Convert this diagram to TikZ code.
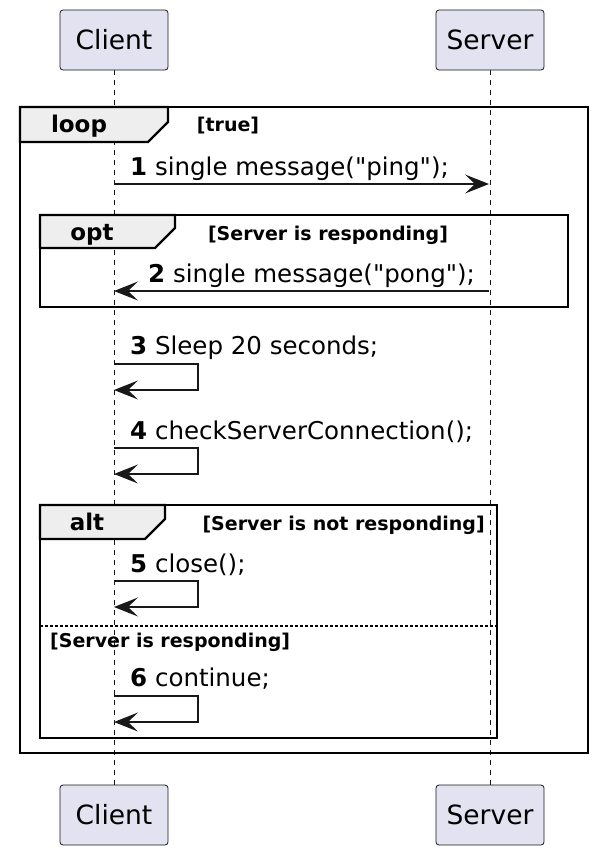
\documentclass[tikz,border=0pt]{standalone}
\usepackage{fontspec}
\newfontfamily\umlfont{DejaVu Sans}
\usetikzlibrary{arrows.meta}
\definecolor{partfill}{HTML}{E2E2F0}
\definecolor{tabgray}{HTML}{EEEEEE}
\definecolor{ink}{HTML}{181818}
\tikzset{
  part/.style={draw=ink, fill=partfill, rounded corners=3pt, line width=0.8pt,
    minimum width=108pt, minimum height=60pt, inner sep=0pt, font=\umlfont\fontsize{26.5}{30}\selectfont},
  lifeline/.style={draw=ink, line width=0.8pt, dash pattern=on 5pt off 5pt},
  frame/.style={draw=black, line width=2.4pt},
  fragtab/.style={draw=black, fill=tabgray, line width=2.4pt, line join=miter},
  msg/.style={draw=ink, line width=1.2pt, -{Stealth[length=24pt, width=19pt, inset=10pt]}},
  msgtext/.style={anchor=base west, inner sep=0pt, font=\umlfont\fontsize{24.5}{28}\selectfont},
  kwtext/.style={anchor=base, inner sep=0pt, font=\umlfont\fontsize{23}{27}\selectfont\bfseries},
  guard/.style={inner sep=0pt, font=\umlfont\fontsize{19}{23}\selectfont\bfseries}
}
% tab of a combined fragment: left x, top y, right x, bottom y
\def\fragtab(#1,#2)(#3,#4){\draw[fragtab] (#1,#2) -- (#3,#2) -- (#3,{#4-20}) -- ({#3-20},#4) -- (#1,#4) -- cycle;}

\begin{document}
\begin{tikzpicture}[x=1pt, y=-1pt]
\useasboundingbox (0,0) rectangle (597,855);

% participants
\node[part] (client) at (114,40) {Client};
\node[part] (server) at (490,40) {Server};
\node[part] (clientb) at (114,815) {Client};
\node[part] (serverb) at (490,815) {Server};
\draw[lifeline] (client) -- (clientb);
\draw[lifeline] (server) -- (serverb);

% loop
\draw[frame] (20,107) rectangle (588,753);
\fragtab(20,107)(168,142)
\node[kwtext] (loopkw) at (79,132) {loop};
\node[guard, anchor=base] (loopguard) at (228,131) {[true]};

% 1
\coordinate (m1c) at (114,184);
\coordinate (m1s) at (489,184);
\draw[msg] (m1c) -- (m1s);
\node[msgtext] (m1) at (130,175) {\textbf{1} single message("ping");};

% opt
\draw[frame] (40,215) rectangle (568,307);
\fragtab(40,215)(175,248)
\node[kwtext] (optkw) at (92,240) {opt};
\node[guard, anchor=base] (optguard) at (328,240) {[Server is responding]};

% 2
\coordinate (m2s) at (489,291);
\coordinate (m2c) at (114,291);
\draw[msg] (m2s) -- (m2c);
\node[msgtext] (m2) at (148,282) {\textbf{2} single message("pong");};

% 3
\coordinate (m3a) at (114,364);
\coordinate (m3b) at (114,390);
\draw[msg] (m3a) -- ++(84,0) |- (m3b);
\node[msgtext] (m3) at (130,354) {\textbf{3} Sleep 20 seconds;};

% 4
\coordinate (m4a) at (114,448);
\coordinate (m4b) at (114,474);
\draw[msg] (m4a) -- ++(84,0) |- (m4b);
\node[msgtext] (m4) at (130,439) {\textbf{4} checkServerConnection();};

% alt
\draw[frame] (40,505) rectangle (497,738);
\fragtab(40,505)(165,539)
\node[kwtext] (altkw) at (87,530) {alt};
\node[guard, anchor=base east] (altguard) at (485,530) {[Server is not responding]};
\draw[black, line width=1.2pt, dash pattern=on 3pt off 2pt] (40,626) -- (497,626);
\node[guard, anchor=base west] (elseguard) at (50,647) {[Server is responding]};

% 5
\coordinate (m5a) at (114,581);
\coordinate (m5b) at (114,607);
\draw[msg] (m5a) -- ++(84,0) |- (m5b);
\node[msgtext] (m5) at (130,572) {\textbf{5} close();};

% 6
\coordinate (m6a) at (114,696);
\coordinate (m6b) at (114,722);
\draw[msg] (m6a) -- ++(84,0) |- (m6b);
\node[msgtext] (m6) at (130,686) {\textbf{6} continue;};
\end{tikzpicture}
\end{document}
